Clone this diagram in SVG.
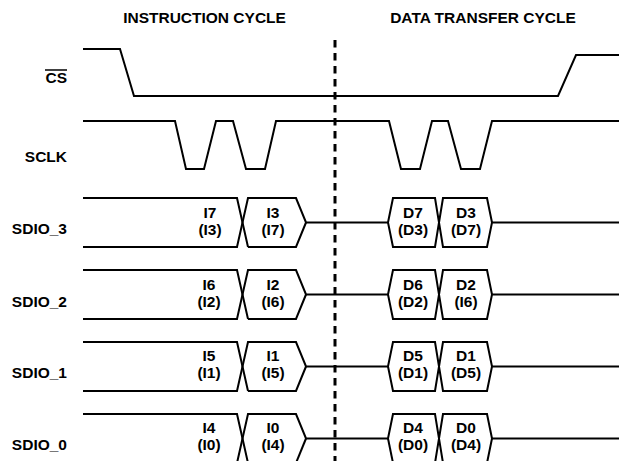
<svg xmlns="http://www.w3.org/2000/svg" width="619" height="461" viewBox="0 0 619 461">
<style>
  text { font-family: "Liberation Sans", Arial, Helvetica, sans-serif; font-weight: bold; font-size: 15.5px; fill: #000; }
  .lbl { text-anchor: end; }
  .c { text-anchor: middle; }
  .w { fill: none; stroke: #000; stroke-width: 2; stroke-linejoin: miter; }
  .dash { fill: none; stroke: #000; stroke-width: 3; stroke-dasharray: 7.5 5.5; }
</style>
<rect width="619" height="461" fill="#fff"/>
<g id="titles">
  <text class="c" x="204.5" y="23">INSTRUCTION CYCLE</text>
  <text class="c" x="483" y="23">DATA TRANSFER CYCLE</text>
</g>
<g id="cs">
  <text class="lbl" x="67" y="83">CS</text>
  <line x1="45" y1="70" x2="67" y2="70" stroke="#000" stroke-width="1.5"/>
  <polyline class="w" points="83,49 120,49 134,96 558,96 576,55 619,55"/>
</g>
<g id="sclk">
  <text class="lbl" x="67" y="162">SCLK</text>
  <polyline class="w" points="83,121 175,121 186,169 204,169 216,121 233,121 246,169 265,169 276,121 389,121 401,169 420,169 432,121 448,121 461,169 480,169 492,121 619,121"/>
</g>
<g id="sdio3">
  <text class="lbl" x="67" y="234">SDIO_3</text>
  <polyline class="w" points="83,198 237,198 248,247"/>
  <polyline class="w" points="83,247 237,247 248,198 296,198 306,222.5 388,222.5 393,198 435,198 443,247 487,247 492,222.5 619,222.5"/>
  <polyline class="w" points="248,247 296,247 306,222.5"/>
  <polyline class="w" points="388,222.5 393,247 435,247 443,198 487,198 492,222.5"/>
  <text class="c" x="210" y="218">I7</text><text class="c" x="210" y="235">(I3)</text>
  <text class="c" x="273" y="218">I3</text><text class="c" x="273" y="235">(I7)</text>
  <text class="c" x="413" y="218">D7</text><text class="c" x="413" y="235">(D3)</text>
  <text class="c" x="466" y="218">D3</text><text class="c" x="466" y="235">(D7)</text>
</g>
<g id="sdio2">
  <text class="lbl" x="67" y="307">SDIO_2</text>
  <polyline class="w" points="83,270 237,270 248,319"/>
  <polyline class="w" points="83,319 237,319 248,270 296,270 306,294.5 388,294.5 393,270 435,270 443,319 487,319 492,294.5 619,294.5"/>
  <polyline class="w" points="248,319 296,319 306,294.5"/>
  <polyline class="w" points="388,294.5 393,319 435,319 443,270 487,270 492,294.5"/>
  <text class="c" x="209" y="290">I6</text><text class="c" x="209" y="307">(I2)</text>
  <text class="c" x="273" y="290">I2</text><text class="c" x="273" y="307">(I6)</text>
  <text class="c" x="413" y="290">D6</text><text class="c" x="413" y="307">(D2)</text>
  <text class="c" x="466" y="290">D2</text><text class="c" x="466" y="307">(I6)</text>
</g>
<g id="sdio1">
  <text class="lbl" x="67" y="378">SDIO_1</text>
  <polyline class="w" points="83,342 237,342 248,391"/>
  <polyline class="w" points="83,391 237,391 248,342 296,342 306,366.5 388,366.5 393,342 435,342 443,391 487,391 492,366.5 619,366.5"/>
  <polyline class="w" points="248,391 296,391 306,366.5"/>
  <polyline class="w" points="388,366.5 393,391 435,391 443,342 487,342 492,366.5"/>
  <text class="c" x="209" y="361">I5</text><text class="c" x="209" y="378">(I1)</text>
  <text class="c" x="273" y="361">I1</text><text class="c" x="273" y="378">(I5)</text>
  <text class="c" x="413" y="361">D5</text><text class="c" x="413" y="378">(D1)</text>
  <text class="c" x="466" y="361">D1</text><text class="c" x="466" y="378">(D5)</text>
</g>
<g id="sdio0">
  <text class="lbl" x="67" y="450">SDIO_0</text>
  <polyline class="w" points="83,414 237,414 248,463"/>
  <polyline class="w" points="237,463 248,414 296,414 306,438.5 388,438.5 393,414 435,414 443,463"/>
  <polyline class="w" points="492,438.5 619,438.5"/>
  <polyline class="w" points="296,463 306,438.5"/>
  <polyline class="w" points="393,463 388,438.5"/>
  <polyline class="w" points="435,463 443,414 487,414 492,438.5 487,463"/>
  <text class="c" x="209" y="433">I4</text><text class="c" x="209" y="450">(I0)</text>
  <text class="c" x="273" y="433">I0</text><text class="c" x="273" y="450">(I4)</text>
  <text class="c" x="413" y="433">D4</text><text class="c" x="413" y="450">(D0)</text>
  <text class="c" x="466" y="433">D0</text><text class="c" x="466" y="450">(D4)</text>
</g>
<g id="connectors">
  <line class="dash" x1="335" y1="40" x2="335" y2="461"/>
</g>
</svg>
